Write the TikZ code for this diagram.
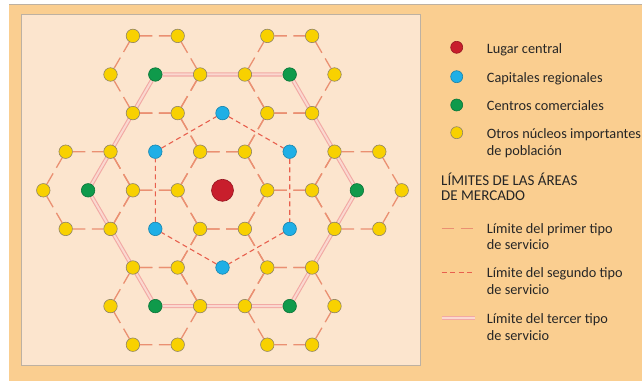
\documentclass[tikz,border=0pt]{standalone}
\usepackage{fontspec}
\setmainfont{Carlito}
\definecolor{marco}{HTML}{FACE90}
\definecolor{fondo}{HTML}{FCE5CE}
\definecolor{borde}{HTML}{BDB1A2}
\definecolor{amarillo}{HTML}{F8D100}
\definecolor{rojo}{HTML}{C81E2C}
\definecolor{azul}{HTML}{1FAFE6}
\definecolor{verde}{HTML}{0F9A4B}
\definecolor{contorno}{HTML}{8E8266}
\definecolor{cprimer}{HTML}{EA9072}
\definecolor{csegundo}{HTML}{E8604E}
\definecolor{ctercer}{HTML}{F2A9A4}
\definecolor{cdoble}{HTML}{FAD8D0}
\definecolor{texto}{HTML}{262626}
\pgfdeclarelayer{capafondo}
\pgfdeclarelayer{lineas}
\pgfsetlayers{capafondo,lineas,main}
\tikzset{
  punto/.style={circle,draw=contorno,line width=.6pt,inner sep=0pt,minimum size=13.5pt},
  nucleo/.style={punto,fill=amarillo},
  capital/.style={punto,fill=azul,draw=azul!75!black},
  centro/.style={punto,fill=verde,draw=verde!75!black},
  lugar/.style={punto,fill=rojo,draw=rojo!75!black,minimum size=22pt},
  primer/.style={draw=cprimer,line width=1.3pt,dash pattern=on 12.5pt off 6.5pt},
  segundo/.style={draw=csegundo,line width=1.1pt,dash pattern=on 5pt off 3.5pt},
  tercer/.style={draw=ctercer,line width=1.1pt,double=cdoble,double distance=2pt},
  leyenda/.style={anchor=base west,inner sep=0pt}
}
\begin{document}
\begin{tikzpicture}[x=1pt,y=1pt,font=\fontsize{14.3}{16}\selectfont,text=texto]
\useasboundingbox (0,0) rectangle (642,381);
\begin{pgfonlayer}{capafondo}
\fill[white] (0,0) rectangle (642,381);
\fill[marco] (9,0) rectangle (642,377);
\draw[borde,line width=.8pt] (9,377) -- (642,377);
\filldraw[fill=fondo,draw=borde,line width=.8pt] (21.7,15.3) rectangle (420.7,367);
\end{pgfonlayer}
\node[lugar] (lc) at (222.5,190.7) {};
\foreach \n/\a/\b in {1/0/2,2/3/1,3/3/-1,4/0/-2,5/-3/-1,6/-3/1}
  \node[capital] (cap\n) at ({222.5+22.4*\a},{190.7+38.6*\b}) {};
\foreach \n/\a/\b in {1/3/3,2/6/0,3/3/-3,4/-3/-3,5/-6/0,6/-3/3}
  \node[centro] (com\n) at ({222.5+22.4*\a},{190.7+38.6*\b}) {};
\foreach \b/\fila in {4/{-4,-2,2,4},3/{-5,-1,1,5},2/{-4,-2,2,4},1/{-7,-5,-1,1,5,7},0/{-8,-4,-2,2,4,8},-1/{-7,-5,-1,1,5,7},-2/{-4,-2,2,4},-3/{-5,-1,1,5},-4/{-4,-2,2,4}}
  \foreach \a in \fila {
    \pgfmathtruncatemacro\i{\a+20}
    \pgfmathtruncatemacro\j{\b+20}
    \node[nucleo] (v\i\j) at ({222.5+22.4*\a},{190.7+38.6*\b}) {};
  }
\begin{pgfonlayer}{lineas}
\foreach \a/\b in {0/0,0/2,3/1,3/-1,0/-2,-3/-1,-3/1,3/3,6/0,3/-3,-3/-3,-6/0,-3/3}{
  \pgfmathtruncatemacro\ia{\a+18}
  \pgfmathtruncatemacro\ib{\a+19}
  \pgfmathtruncatemacro\ic{\a+21}
  \pgfmathtruncatemacro\id{\a+22}
  \pgfmathtruncatemacro\ja{\b+19}
  \pgfmathtruncatemacro\jb{\b+20}
  \pgfmathtruncatemacro\jc{\b+21}
  \draw[primer](v\ib\jc)--(v\ic\jc)(v\ib\ja)--(v\ic\ja)(v\ia\jb)--(v\ib\jc)(v\ia\jb)--(v\ib\ja)(v\ic\jc)--(v\id\jb)(v\ic\ja)--(v\id\jb);
}
\draw[segundo](cap1)--(cap2)--(cap3)--(cap4)--(cap5)--(cap6)--(cap1);
\draw[tercer](com1)--(com2)--(com3)--(com4)--(com5)--(com6)--(com1);
\end{pgfonlayer}
\node[lugar,minimum size=12pt] (l1) at (456.7,333.7) {};
\node[capital,minimum size=12pt] (l2) at (456.7,304.3) {};
\node[centro,minimum size=12pt] (l3) at (456.7,276) {};
\node[nucleo,minimum size=12pt] (l4) at (456.7,248.3) {};
\node[leyenda] (t1) at (486.7,327.7) {Lugar central};
\node[leyenda] (t2) at (486.7,298.3) {Capitales regionales};
\node[leyenda] (t3) at (486.7,270.3) {Centros comerciales};
\node[leyenda] (t4) at (486.7,242.5) {Otros núcleos importantes};
\node[leyenda] (t4b) at (486.7,226) {de población};
\node[leyenda,font=\fontsize{15}{16}\selectfont] (h1) at (441,196) {LÍMITES DE LAS ÁREAS};
\node[leyenda,font=\fontsize{15}{16}\selectfont] (h2) at (441,181) {DE MERCADO};
\coordinate (m1a) at (441.7,152.7); \coordinate (m1b) at (475,152.7);
\coordinate (m2a) at (441.7,108.3); \coordinate (m2b) at (475,108.3);
\coordinate (m3a) at (441.7,62.7); \coordinate (m3b) at (475,62.7);
\draw[primer](m1a)--(m1b);
\draw[segundo](m2a)--(m2b);
\draw[tercer](m3a)--(m3b);
\node[leyenda] (s1) at (486.7,147.7) {Límite del primer tipo};
\node[leyenda] (s1b) at (486.7,131.7) {de servicio};
\node[leyenda] (s2) at (486.7,103.7) {Límite del segundo tipo};
\node[leyenda] (s2b) at (486.7,86.7) {de servicio};
\node[leyenda] (s3) at (486.7,57.7) {Límite del tercer tipo};
\node[leyenda] (s3b) at (486.7,41) {de servicio};
\end{tikzpicture}
\end{document}
